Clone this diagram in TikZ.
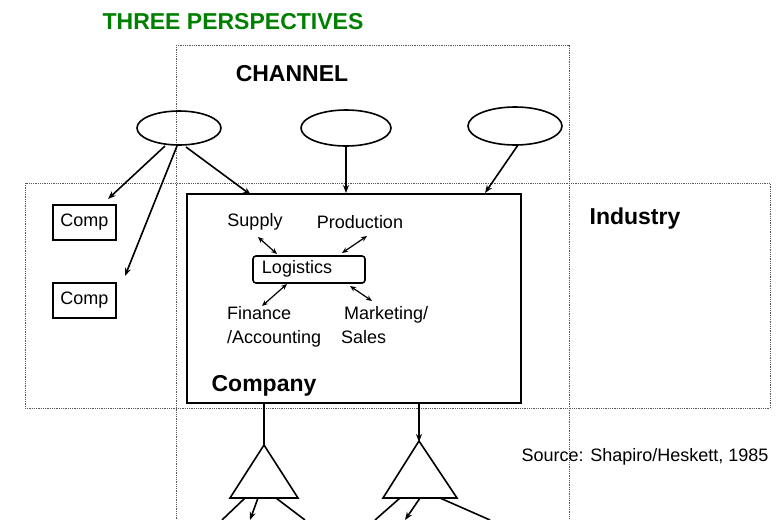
\documentclass[tikz,border=0pt]{standalone}
\usepackage{fontspec}
\setmainfont{Liberation Sans}
\usetikzlibrary{arrows.meta}
\begin{document}
\begin{tikzpicture}[x=1pt,y=-1pt,
  dot/.style={densely dotted,line width=0.8pt,gray!70!black},
  ar/.style={-{Stealth[length=8pt,width=6pt]},line width=1.6pt},
  dar/.style={{Stealth[length=6pt,width=5pt]}-{Stealth[length=6pt,width=5pt]},line width=1.2pt},
  box/.style={draw,line width=1.6pt},
  big/.style={font=\bfseries\fontsize{23}{26}\selectfont,inner sep=0pt},
  lab/.style={font=\fontsize{18}{21}\selectfont,inner sep=0pt}]
\useasboundingbox (0,0) rectangle (780,520);
\draw[dot] (176,45) -- (569,45) -- (569,520);
\draw[dot] (176,45) -- (176,520);
\draw[dot] (25,183) rectangle (770,408);
\node[big,text=green!50!black] (title) at (233,22) {THREE PERSPECTIVES};
\node[big] (chan) at (292,74) {CHANNEL};
\node[big] (ind) at (635,219) {Industry};
\draw[line width=1.6pt] (179,128) ellipse (42 and 17);
\draw[line width=1.6pt] (346,128) ellipse (45 and 18);
\draw[line width=1.6pt] (515,126) ellipse (47 and 19);
\coordinate (e1a) at (165,146); \coordinate (e1b) at (177,146); \coordinate (e1c) at (186,147);
\coordinate (e2) at (346,146); \coordinate (e3) at (518,145);
\node[box,minimum width=63pt,minimum height=35pt,lab] (c1) at (84.5,222.5) {Comp};
\node[box,minimum width=63pt,minimum height=35pt,lab] (c2) at (84.5,300.5) {Comp};
\node[box,minimum width=334pt,minimum height=209pt] (co) at (354,298.5) {};
\node[big] (coname) at (264,386) {Company};
\draw[ar] (e1a) -- (108,199);
\draw[ar] (e1b) -- (125,276);
\draw[ar] (e1c) -- (251,195);
\draw[ar] (e2) -- (346,193);
\draw[ar] (e3) -- (485,193);
\node[lab] (sup) at (255,222) {Supply};
\node[lab] (prod) at (360,222) {Production};
\node[draw,rounded corners=3pt,line width=1.6pt,minimum width=112pt,minimum height=27pt] (log) at (309,269.5) {};
\node[lab] (logt) at (297,269) {Logistics};
\node[lab,align=left,anchor=north west] (fin) at (227,306) {Finance\\[3pt]/Accounting};
\node[lab,align=left,anchor=north west] (mkt) at (341,306) {\,Marketing/\\[3pt]Sales};
\draw[dar] (258,237) -- (277,254);
\draw[dar] (342,253) -- (367,236);
\draw[dar] (287,284) -- (262,306);
\draw[dar] (350,286) -- (372,301);
\draw[line width=1.6pt] (264,403) -- (264,445);
\draw[ar] (419,403) -- (419,442);
\draw[line width=1.6pt] (264,445) -- (230,498) -- (298,498) -- cycle;
\draw[line width=1.6pt] (419,441) -- (383,498) -- (457,498) -- cycle;
\draw[line width=1.6pt] (245,498) -- (222,520);
\draw[ar] (258,498) -- (250,520);
\draw[line width=1.6pt] (276,498) -- (305,520);
\draw[line width=1.6pt] (400,498) -- (375,520);
\draw[ar] (420,498) -- (405,520);
\draw[line width=1.6pt] (440,498) -- (490,520);
\node[lab] (src) at (645,457) {Source: Shapiro/Heskett, 1985};
\end{tikzpicture}
\end{document}
